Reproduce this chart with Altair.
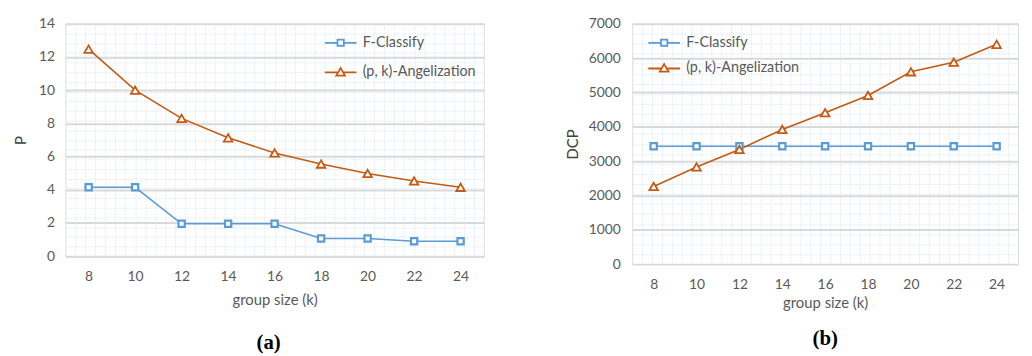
import altair as alt
import pandas as pd

k_values = [8, 10, 12, 14, 16, 18, 20, 22, 24]
series_names = ["F-Classify", "(p, k)-Angelization"]

p_fclassify = [4.15, 4.15, 1.95, 1.95, 1.95, 1.07, 1.07, 0.90, 0.90]
p_angel = [12.47, 10.0, 8.30, 7.13, 6.22, 5.55, 4.98, 4.53, 4.15]

dcp_fclassify = [3430, 3430, 3430, 3430, 3430, 3430, 3430, 3430, 3430]
dcp_angel = [2260, 2830, 3340, 3920, 4410, 4910, 5600, 5880, 6400]

colors = ["#5b9bd5", "#c55a11"]
FONT = "Lato"
TXT = "#595959"

legend_paths = [
    "M-4,0H-0.8M0.8,0H4M-0.8,-0.8H0.8V0.8H-0.8Z",
    "M-4,0H-0.64M0.64,0H4M0,-1.1L1.1,0.8H-1.1Z",
]


def make_df(a, b):
    return pd.DataFrame({
        "k": k_values * 2,
        "v": list(a) + list(b),
        "series": [series_names[0]] * len(k_values) + [series_names[1]] * len(k_values),
    })


def panel(df, ytitle, ymax, ystep, width, height, nx, ny, legx, legy, rowpad,
          label, label_dx, label_off, xlabpad, xtitlepad, ytitlepad, ylabpad):
    gdf = pd.DataFrame({"gx": [0, nx], "gy": [0, ny]})
    grid = alt.Chart(gdf).mark_point(opacity=0).encode(
        x=alt.X("gx:Q", scale=alt.Scale(domain=[0, nx], nice=False, zero=True),
                axis=alt.Axis(orient="top", values=list(range(1, nx)), grid=True,
                              gridColor="#e2edf8", gridDash=[2, 1], gridWidth=1,
                              labels=False, ticks=False, domain=False, title=None)),
        y=alt.Y("gy:Q", scale=alt.Scale(domain=[0, ny], nice=False, zero=True),
                axis=alt.Axis(orient="right", values=list(range(1, ny)), grid=True,
                              gridColor="#e2edf8", gridDash=[2, 1], gridWidth=1,
                              labels=False, ticks=False, domain=False, title=None)),
    )

    x = alt.X("k:O", sort=k_values, scale=alt.Scale(type="point", padding=0.5),
              axis=alt.Axis(labelAngle=0, ticks=False, domain=False, grid=False,
                            title="group size (k)", labelPadding=xlabpad,
                            titlePadding=xtitlepad, labelColor=TXT, titleColor=TXT,
                            labelFontSize=14, titleFontSize=15, labelFont=FONT,
                            titleFont=FONT, titleFontWeight="normal"))
    y = alt.Y("v:Q", scale=alt.Scale(domain=[0, ymax], nice=False),
              axis=alt.Axis(values=list(range(0, ymax + 1, ystep)), format="d", ticks=False,
                            domain=False, grid=True, gridColor="#d9d9d9", gridWidth=2,
                            title=ytitle, titlePadding=ytitlepad, labelPadding=ylabpad,
                            labelColor=TXT, titleColor="#404040", labelFontSize=14,
                            titleFontSize=15, labelFont=FONT, titleFont=FONT,
                            titleFontWeight="normal"))

    base = alt.Chart(df)
    s0 = base.transform_filter(alt.datum.series == series_names[0])
    s1 = base.transform_filter(alt.datum.series == series_names[1])
    line0 = s0.mark_line(strokeWidth=1.6, color=colors[0]).encode(x=x, y=y)
    line1 = s1.mark_line(strokeWidth=1.6, color=colors[1]).encode(x=x, y=y)
    pts0 = s0.mark_point(shape="square", size=40, filled=True, fill="#ffffff",
                         stroke=colors[0], strokeWidth=2.2, opacity=1).encode(x=x, y=y)
    pts1 = s1.mark_point(shape="triangle-up", size=75, filled=True, fill="#ffffff",
                         stroke=colors[1], strokeWidth=1.8, opacity=1).encode(x=x, y=y)
    leg = base.mark_point(opacity=0, filled=False, size=64, strokeWidth=1.8).encode(
        x=x, y=y,
        color=alt.Color("series:N", scale=alt.Scale(domain=series_names, range=colors),
                        legend=alt.Legend(orient="none", legendX=legx, legendY=legy,
                                          title=None, symbolOpacity=1, symbolSize=64,
                                          symbolStrokeWidth=1.8, symbolFillColor="#ffffff",
                                          labelOffset=15, labelFont=FONT, labelFontSize=14.5,
                                          labelColor=TXT, rowPadding=rowpad, padding=0,
                                          labelLimit=300)),
        shape=alt.Shape("series:N", scale=alt.Scale(domain=series_names, range=legend_paths)),
    )
    main = alt.layer(line0, line1, pts0, pts1, leg)
    return alt.layer(grid, main).resolve_scale(x="independent", y="independent").properties(
        width=width, height=height,
        title=alt.TitleParams(label, orient="bottom", frame="group", anchor="middle",
                              dx=label_dx, offset=label_off, font="Liberation Serif",
                              fontSize=21, fontWeight="bold", color="#000000"),
    )


left = panel(make_df(p_fclassify, p_angel), "P", 14, 2, 423, 235, 42, 24,
             271, 12, 14, "(a)", -6, 25, 14, 9, 10, 11)
right = panel(make_df(dcp_fclassify, dcp_angel), "DCP", 7000, 1000, 390, 243, 39, 24,
              25, 12, 10, "(b)", 0, 18, 14, 4, 8, 12)

chart = alt.hconcat(left, right, spacing=78).resolve_scale(
    color="independent", shape="independent"
).properties(
    padding={"left": 5, "top": 6, "right": 2, "bottom": 2}
).configure_view(stroke="#d9d9d9", strokeWidth=1.5).configure(background="#ffffff")

chart.save("out.html", embed_options={"renderer": "svg", "actions": False})
